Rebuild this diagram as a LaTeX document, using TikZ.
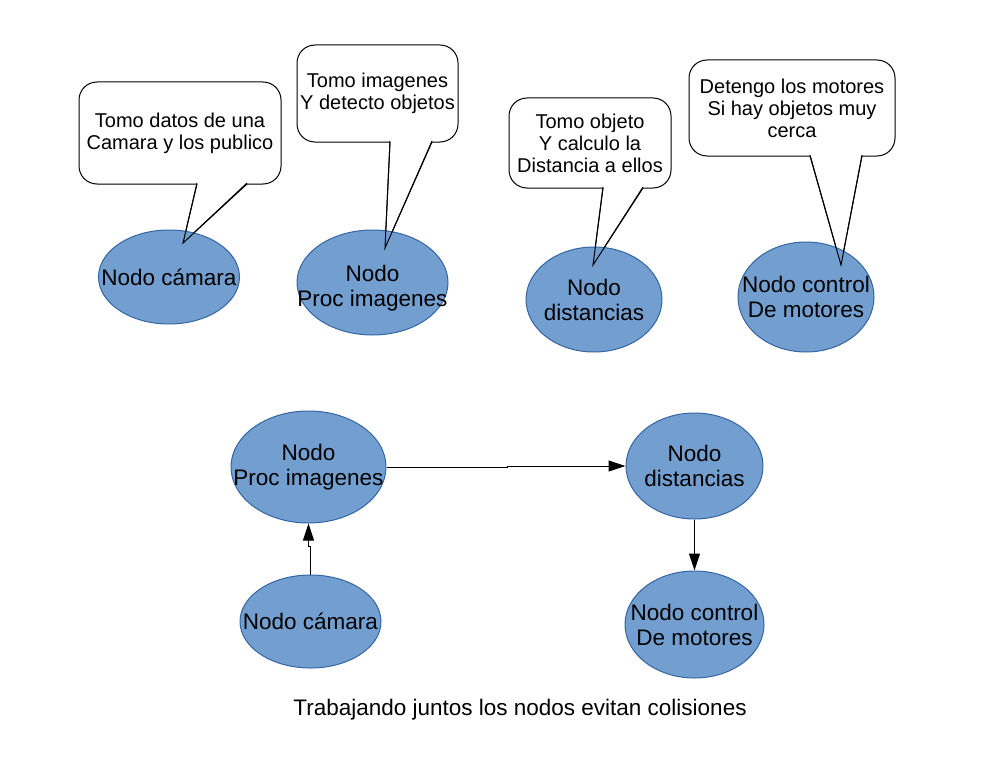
\documentclass[tikz,border=0pt]{standalone}
\usepackage{fontspec}
\setmainfont{Liberation Sans}
\usetikzlibrary{positioning,shapes.geometric,arrows.meta}
\definecolor{rellenoazul}{HTML}{729FCF}
\definecolor{bordeazul}{HTML}{3465A4}

\begin{document}
\begin{tikzpicture}[x=1pt,y=-1pt,line width=1pt,
  nodo/.style={ellipse,draw=bordeazul,fill=rellenoazul,inner sep=0pt},
  etiqueta/.style={font=\fontsize{22.5}{25}\selectfont,align=center},
  globo/.style={draw=black,fill=white,rounded corners=18pt,inner sep=0pt,
    font=\fontsize{20}{22}\selectfont,align=center},
  cola/.style={draw=black,fill=white},
  flecha/.style={-{Triangle[length=17pt,width=11pt]}}]
  \useasboundingbox (0,0) rectangle (1000,773);

  % globos (la punta queda bajo la elipse)
  \node[globo,minimum width=202pt,minimum height=102pt] (g1) at (180,133)
    {Tomo datos de una\\Camara y los publico};
  \draw[cola] (197,183) -- (183,243) -- (247,183);
  \node[globo,minimum width=161pt,minimum height=97pt] (g2) at (377.5,93.5)
    {Tomo imagenes\\Y detecto objetos};
  \draw[cola] (390,141) -- (385,248) -- (432,141);
  \node[globo,minimum width=162pt,minimum height=90pt] (g3) at (590,143)
    {Tomo objeto\\Y calculo la\\Distancia a ellos};
  \draw[cola] (603,187) -- (593,265) -- (643,187);
  \node[globo,minimum width=206pt,minimum height=96pt] (g4) at (792,108)
    {Detengo los motores\\Si hay objetos muy\\cerca};
  \draw[cola] (810,155) -- (841,265) -- (862,155);

  \node[nodo,minimum width=141pt,minimum height=94pt,
    label={[etiqueta]center:Nodo cámara}] (cam1) at (169,277) {};
  \node[nodo,minimum width=151pt,minimum height=105pt,
    label={[etiqueta,yshift=-6pt]center:{Nodo\\Proc imagenes}}] (proc1) at (372.5,282.5) {};
  \node[nodo,minimum width=136pt,minimum height=105pt,
    label={[etiqueta]center:{Nodo\\distancias}}] (dist1) at (594,299.5) {};
  \node[nodo,minimum width=136pt,minimum height=110pt,
    label={[etiqueta]center:{Nodo control\\De motores}}] (ctrl1) at (806,297) {};

  \draw (197,184) -- (183,243) -- (247,184);
  \draw (390,142) -- (385,248) -- (432,142);
  \draw (603,188) -- (593,265) -- (643,188);
  \draw (810,156) -- (841,265) -- (862,156);

  \node[nodo,minimum width=155pt,minimum height=112pt,
    label={[etiqueta]center:{Nodo\\Proc imagenes}}] (proc2) at (308.5,467) {};
  \node[nodo,minimum width=137pt,minimum height=106pt,
    label={[etiqueta]center:{Nodo\\distancias}}] (dist2) at (694.5,466) {};
  \node[nodo,minimum width=141pt,minimum height=93pt,
    label={[etiqueta]center:Nodo cámara}] (cam2) at (310.5,621.5) {};
  \node[nodo,minimum width=139pt,minimum height=107pt,
    label={[etiqueta]center:{Nodo control\\De motores}}] (ctrl2) at (694.5,624.5) {};

  \draw[flecha] (cam2.north) -- ++(0,-28) -| (proc2.south);
  \draw[flecha] (proc2.east) -- ++(121,0) |- (dist2.west);
  \draw[flecha] (dist2.south) -- (ctrl2.north);

  \node[etiqueta] (titulo) at (520,710) {Trabajando juntos los nodos evitan colisiones};
\end{tikzpicture}
\end{document}
